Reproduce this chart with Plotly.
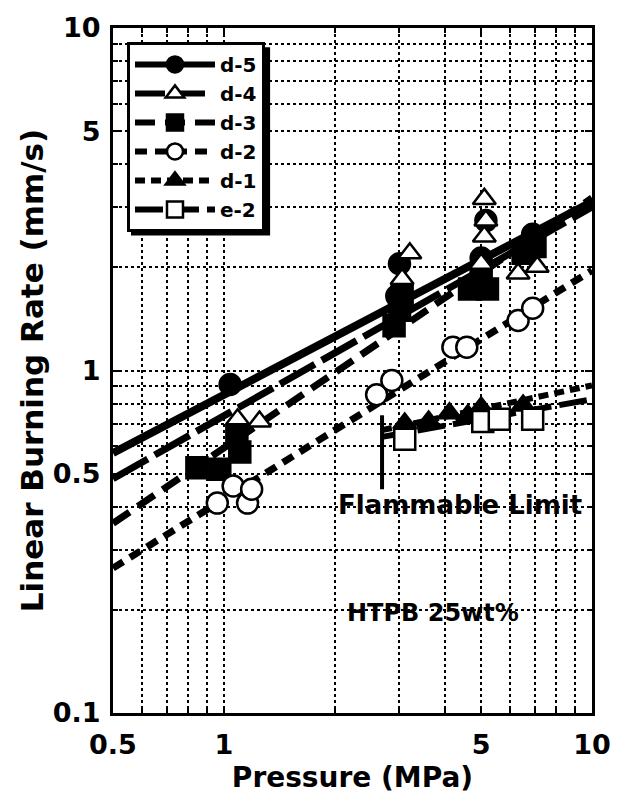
import math
import plotly.graph_objects as go

# ---------------- data ----------------
D5_P = [1.04, 2.95, 3.0, 5.0, 5.15, 6.9]
D5_R = [0.91, 1.65, 2.05, 2.13, 2.74, 2.5]
D4_P = [1.09, 1.25, 3.05, 3.2, 5.0, 5.1, 5.15, 5.1, 6.3, 7.1]
D4_R = [0.72, 0.71, 1.85, 2.2, 2.05, 2.46, 2.74, 3.17, 1.92, 2.01]
D3_P = [0.845, 0.975, 1.105, 1.085, 2.9, 3.0, 3.05, 4.65, 5.2, 5.0, 6.5, 7.0]
D3_R = [0.52, 0.515, 0.578, 0.648, 1.35, 1.5, 1.65, 1.73, 1.73, 1.9, 2.2, 2.3]
D2_P = [0.96, 1.06, 1.16, 1.19, 2.6, 2.86, 4.19, 4.57, 6.3, 6.9]
D2_R = [0.41, 0.46, 0.41, 0.45, 0.85, 0.935, 1.17, 1.17, 1.40, 1.52]
D1_P = [3.1, 3.6, 4.1, 4.6, 5.0, 6.5]
D1_R = [0.70, 0.71, 0.75, 0.74, 0.78, 0.79]
E2_P = [3.1, 5.05, 5.6, 6.9]
E2_R = [0.63, 0.71, 0.72, 0.72]

# fitted lines (end points)
FIT_P = [0.5, 10]
D5_FIT = [0.574, 3.11]
D4_FIT = [0.483, 3.0]
D3_FIT = [0.358, 3.19]
D2_FIT = [0.265, 1.96]
LOW_FIT_P = [2.69, 10]
D1_FIT = [0.67, 0.905]
E2_FIT = [0.64, 0.824]

# flammable limit marker
FL_P = [2.69, 2.69]
FL_R = [0.45, 0.74]

X_TICKS = [0.5, 1, 5, 10]
X_TICKTEXT = ["0.5", "1", "5", "10"]
X_MINOR = [0.6, 0.7, 0.8, 0.9, 2, 3, 4, 6, 7, 8, 9]
Y_TICKS = [0.1, 0.5, 1, 5, 10]
Y_TICKTEXT = ["0.1", "0.5", "1", "5", "10"]
Y_MINOR = [0.2, 0.3, 0.4, 0.6, 0.7, 0.8, 0.9, 2, 3, 4, 6, 7, 8, 9]

FONT = "DejaVu Sans"


def gapped(xs, ys):
    gx, gy = [], []
    for a, b in zip(xs, ys):
        gx += [a, None]
        gy += [b, None]
    return gx, gy


fig = go.Figure()

# fitted lines
lines = [
    (FIT_P, D5_FIT, "solid", 8),
    (FIT_P, D4_FIT, "40px,8px", 7),
    (FIT_P, D3_FIT, "20px,10px", 7),
    (FIT_P, D2_FIT, "12px,8px", 7),
    (LOW_FIT_P, D1_FIT, "10px,6px", 6),
    (LOW_FIT_P, E2_FIT, "28px,8px", 6),
]
for xs, ys, dash, w in lines:
    fig.add_trace(go.Scatter(x=xs, y=ys, mode="lines", showlegend=False,
                             line=dict(color="black", width=w, dash=dash),
                             hoverinfo="skip"))

fig.add_trace(go.Scatter(x=FL_P, y=FL_R, mode="lines", showlegend=False,
                         line=dict(color="black", width=4)))

# markers (draw order chosen so open symbols sit on top)
series = [
    ("d-3", D3_P, D3_R, "square", "black", "20px,10px", 3),
    ("d-5", D5_P, D5_R, "circle", "black", "solid", 1),
    ("d-1", D1_P, D1_R, "triangle-up", "black", "10px,6px", 5),
    ("e-2", E2_P, E2_R, "square", "white", "28px,8px", 6),
    ("d-2", D2_P, D2_R, "circle", "white", "12px,8px", 4),
    ("d-4", D4_P, D4_R, "triangle-up", "white", "30px,10px", 2),
]
for name, xs, ys, sym, fill, dash, rank in series:
    gx, gy = gapped(xs, ys)
    fig.add_trace(go.Scatter(
        x=gx, y=gy, mode="lines+markers", name=name, legendrank=rank,
        connectgaps=False,
        line=dict(color="black", width=6, dash=dash),
        marker=dict(symbol=sym, size=21 if sym != "triangle-up" else 20,
                    color=fill, line=dict(color="black", width=2.5)),
    ))

axis_common = dict(
    type="log", showline=True, linewidth=3, linecolor="black", mirror="ticks",
    ticks="inside", ticklen=7, tickwidth=2, tickcolor="black",
    showgrid=True, gridcolor="black", griddash="dot", gridwidth=1.5,
    tickfont=dict(family=FONT, size=27, color="black", weight="bold"),
    zeroline=False,
)

fig.update_xaxes(
    range=[math.log10(0.5), 1], tickmode="array", tickvals=X_TICKS, ticktext=X_TICKTEXT,
    minor=dict(tickmode="array", tickvals=X_MINOR, showgrid=True, gridcolor="black",
               griddash="dot", gridwidth=1.5, ticks="inside", ticklen=5, tickcolor="black"),
    title=dict(text="Pressure (MPa)", font=dict(family=FONT, size=28, color="black", weight="bold"),
               standoff=8),
    ticklabelstandoff=6,
    **axis_common,
)
fig.update_yaxes(
    range=[-1, 1], tickmode="array", tickvals=Y_TICKS, ticktext=Y_TICKTEXT,
    minor=dict(tickmode="array", tickvals=Y_MINOR, showgrid=True, gridcolor="black",
               griddash="dot", gridwidth=1.5, ticks="inside", ticklen=5, tickcolor="black"),
    title=dict(text="Linear Burning Rate (mm/s)",
               font=dict(family=FONT, size=31, color="black", weight="bold"), standoff=0),
    ticklabelstandoff=4,
    **axis_common,
)

fig.add_annotation(x=math.log10(4.38), y=math.log10(0.406), text="Flammable Limit",
                   showarrow=False, font=dict(family=FONT, size=26, color="black", weight="bold"))
fig.add_annotation(x=math.log10(3.7), y=math.log10(0.196), text="HTPB 25wt%",
                   showarrow=False, font=dict(family=FONT, size=24, color="black", weight="bold"))

# legend shadow
fig.add_shape(type="rect", xref="paper", yref="paper", x0=0.0376, x1=0.328, y0=0.697, y1=0.972,
              fillcolor="black", line=dict(width=0), layer="above")

fig.update_layout(
    width=625, height=801,
    margin=dict(l=113, r=33, t=23, b=88),
    paper_bgcolor="white", plot_bgcolor="white",
    showlegend=True,
    legend=dict(x=0.0292, y=0.9797, xanchor="left", yanchor="top",
                bgcolor="white", bordercolor="black", borderwidth=3,
                font=dict(family=FONT, size=20, color="black", weight="bold"),
                itemwidth=80, tracegroupgap=0),
)

fig.write_html("out.html")
